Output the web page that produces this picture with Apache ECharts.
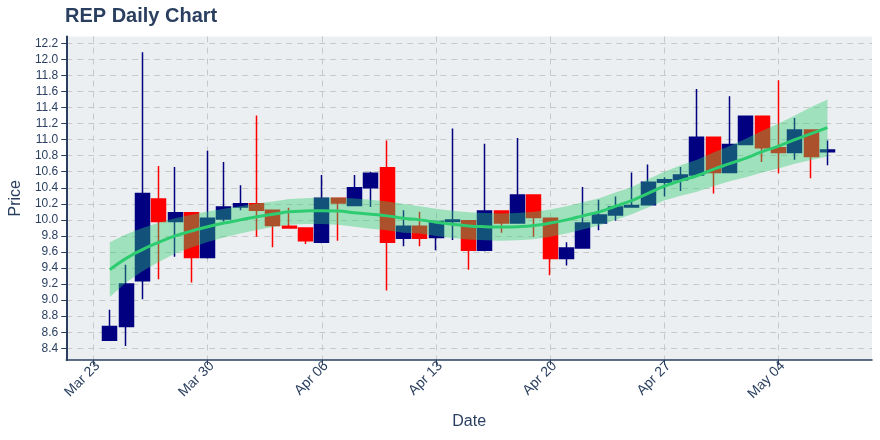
<!DOCTYPE html>
<html>
<head>
<meta charset="utf-8">
<script src="https://cdn.jsdelivr.net/npm/echarts@6/dist/echarts.min.js"></script>
<style>
html,body{margin:0;padding:0;background:#fff;}
#chart{width:880px;height:440px;}
</style>
</head>
<body>
<div id="chart"></div>
<script>
// Day offsets from Mar 23 (2020)
const days = [1,2,3,4,5,6,7,8,9,10,11,12,13,14,15,16,17,18,19,20,21,22,23,24,25,26,27,28,29,30,31,32,33,34,35,36,37,38,39,40,41,42,43,44,45];
const opens  = [8.50,8.67,9.24,10.26,9.98,10.09,9.53,10.01,10.16,10.20,10.12,9.92,9.90,9.72,10.27,10.18,10.40,10.65,9.77,9.92,9.78,9.98,9.99,9.62,10.11,9.96,10.31,10.02,9.52,9.65,9.96,10.06,10.16,10.19,10.47,10.50,10.56,11.03,10.59,10.94,11.29,10.90,10.84,11.12,10.85];
const closes = [8.67,9.20,10.33,9.98,10.09,9.53,10.02,10.16,10.20,10.12,9.93,9.90,9.74,10.27,10.21,10.40,10.58,9.72,9.92,9.77,9.98,10.00,9.62,10.11,9.96,10.31,10.03,9.52,9.65,9.96,10.06,10.16,10.18,10.47,10.50,10.56,11.03,10.59,10.94,11.29,10.90,10.84,11.12,10.79,10.87];
const lows   = [8.49,8.43,9.01,9.26,9.54,9.22,9.52,9.98,10.12,9.79,9.66,9.89,9.70,9.71,9.74,10.17,10.16,9.12,9.67,9.67,9.62,9.75,9.38,9.61,9.84,9.96,9.79,9.31,9.43,9.65,9.87,9.99,10.16,10.18,10.29,10.36,10.55,10.33,10.58,10.94,10.72,10.58,10.75,10.52,10.68];
const highs  = [8.88,9.44,12.09,10.67,10.66,10.09,10.86,10.72,10.43,11.30,10.13,10.15,9.90,10.56,10.28,10.56,10.60,10.99,10.12,10.10,9.99,11.14,9.99,10.95,10.12,11.02,10.31,10.03,9.72,10.41,10.25,10.29,10.59,10.69,10.53,10.66,11.63,11.03,11.54,11.30,11.30,11.74,11.27,11.12,10.99];
const trend  = [9.38,9.52,9.63,9.72,9.80,9.86,9.915,9.96,10.00,10.04,10.07,10.10,10.11,10.115,10.11,10.09,10.07,10.05,10.02,10.00,9.97,9.945,9.925,9.915,9.91,9.915,9.93,9.96,10.00,10.05,10.10,10.17,10.24,10.33,10.42,10.49,10.55,10.63,10.70,10.77,10.85,10.92,11.00,11.075,11.15];
const bandLower = [9.04,9.22,9.36,9.475,9.58,9.655,9.725,9.78,9.83,9.875,9.91,9.94,9.95,9.95,9.94,9.915,9.89,9.87,9.84,9.83,9.80,9.775,9.755,9.745,9.74,9.745,9.76,9.79,9.83,9.88,9.93,10.00,10.07,10.155,10.24,10.30,10.35,10.42,10.48,10.53,10.59,10.64,10.70,10.745,10.79];
const bandUpper = [9.72,9.82,9.90,9.965,10.02,10.065,10.105,10.14,10.17,10.205,10.23,10.26,10.27,10.28,10.28,10.265,10.25,10.23,10.20,10.17,10.14,10.115,10.095,10.085,10.08,10.085,10.10,10.13,10.17,10.22,10.27,10.34,10.41,10.505,10.60,10.68,10.75,10.84,10.92,11.01,11.11,11.20,11.30,11.405,11.50];
const xTickDays = [0,7,14,21,28,35,42];
const xTickLabels = ['Mar 23','Mar 30','Apr 06','Apr 13','Apr 20','Apr 27','May 04'];
const yTicks = [8.4,8.6,8.8,9.0,9.2,9.4,9.6,9.8,10.0,10.2,10.4,10.6,10.8,11.0,11.2,11.4,11.6,11.8,12.0,12.2];

const textColor = '#2a3f5f';
const font = 'Liberation Sans, Arial, sans-serif';
const chart = echarts.init(document.getElementById('chart'));
const candleData = days.map((d,i)=>[d, opens[i], closes[i], lows[i], highs[i]]);
const bandData = days.map((d,i)=>[d, bandLower[i], bandUpper[i]]);
const trendData = days.map((d,i)=>[d, trend[i]]);

chart.setOption({
  animation:false,
  backgroundColor:'#ffffff',
  title:{text:'REP Daily Chart', left:65, top:6, padding:0, textStyle:{fontFamily:font, fontWeight:'bold', fontSize:20, color:textColor}},
  grid:{left:65, right:8, top:36.5, bottom:80, show:true, backgroundColor:'#eceff1', borderWidth:0},
  xAxis:{
    type:'value', min:-1.67, max:47.73, position:'bottom',
    name:'Date', nameLocation:'middle', nameGap:54,
    nameTextStyle:{fontFamily:font, fontSize:16, color:textColor},
    axisLine:{show:true, onZero:false, lineStyle:{color:textColor, width:1.5}},
    axisTick:{show:true, length:5, customValues:xTickDays, lineStyle:{color:textColor}},
    axisLabel:{customValues:xTickDays, rotate:45, fontFamily:font, fontSize:14, color:textColor, margin:8,
      padding:[12,-6,0,0],
      formatter:(v)=>{const k=xTickDays.indexOf(Math.round(v)); return k>=0?xTickLabels[k]:'';}},
    splitLine:{show:true, lineStyle:{color:'#c8c8c8', type:[6,5], width:1}}
  },
  yAxis:{
    type:'value', min:8.254, max:12.285, position:'left',
    name:'Price', nameLocation:'middle', nameGap:40, nameRotate:90,
    nameTextStyle:{fontFamily:font, fontSize:16, color:textColor},
    axisLine:{show:true, onZero:false, lineStyle:{color:textColor, width:2}},
    axisTick:{show:true, length:5, customValues:yTicks, lineStyle:{color:textColor}},
    axisLabel:{customValues:yTicks, fontFamily:font, fontSize:12, color:textColor, margin:8,
      formatter:(v)=>v.toFixed(1)},
    splitLine:{show:true, lineStyle:{color:'#c8c8c8', type:[6,5], width:1}}
  },
  series:[
    {type:'candlestick', data:candleData, encode:{x:0, y:[1,2,3,4]}, barWidth:14.5, z:2,
      itemStyle:{color:'#000080', color0:'#ff0000', borderColor:'#000080', borderColor0:'#ff0000', borderWidth:1.5}},
    {type:'custom', data:bandData, encode:{x:0, y:[1,2]}, z:3, silent:true,
      renderItem:(params, api)=>{
        if(params.dataIndex!==0) return null;
        const pts=[];
        for(let i=0;i<days.length;i++) pts.push(api.coord([days[i], bandUpper[i]]));
        for(let i=days.length-1;i>=0;i--) pts.push(api.coord([days[i], bandLower[i]]));
        return {type:'polygon', shape:{points:pts}, style:{fill:'rgba(46,204,113,0.4)'}};
      }},
    {type:'line', data:trendData, smooth:true, symbol:'none', z:4,
      lineStyle:{color:'#2ecc71', width:3}}
  ]
});
</script>
</body>
</html>
